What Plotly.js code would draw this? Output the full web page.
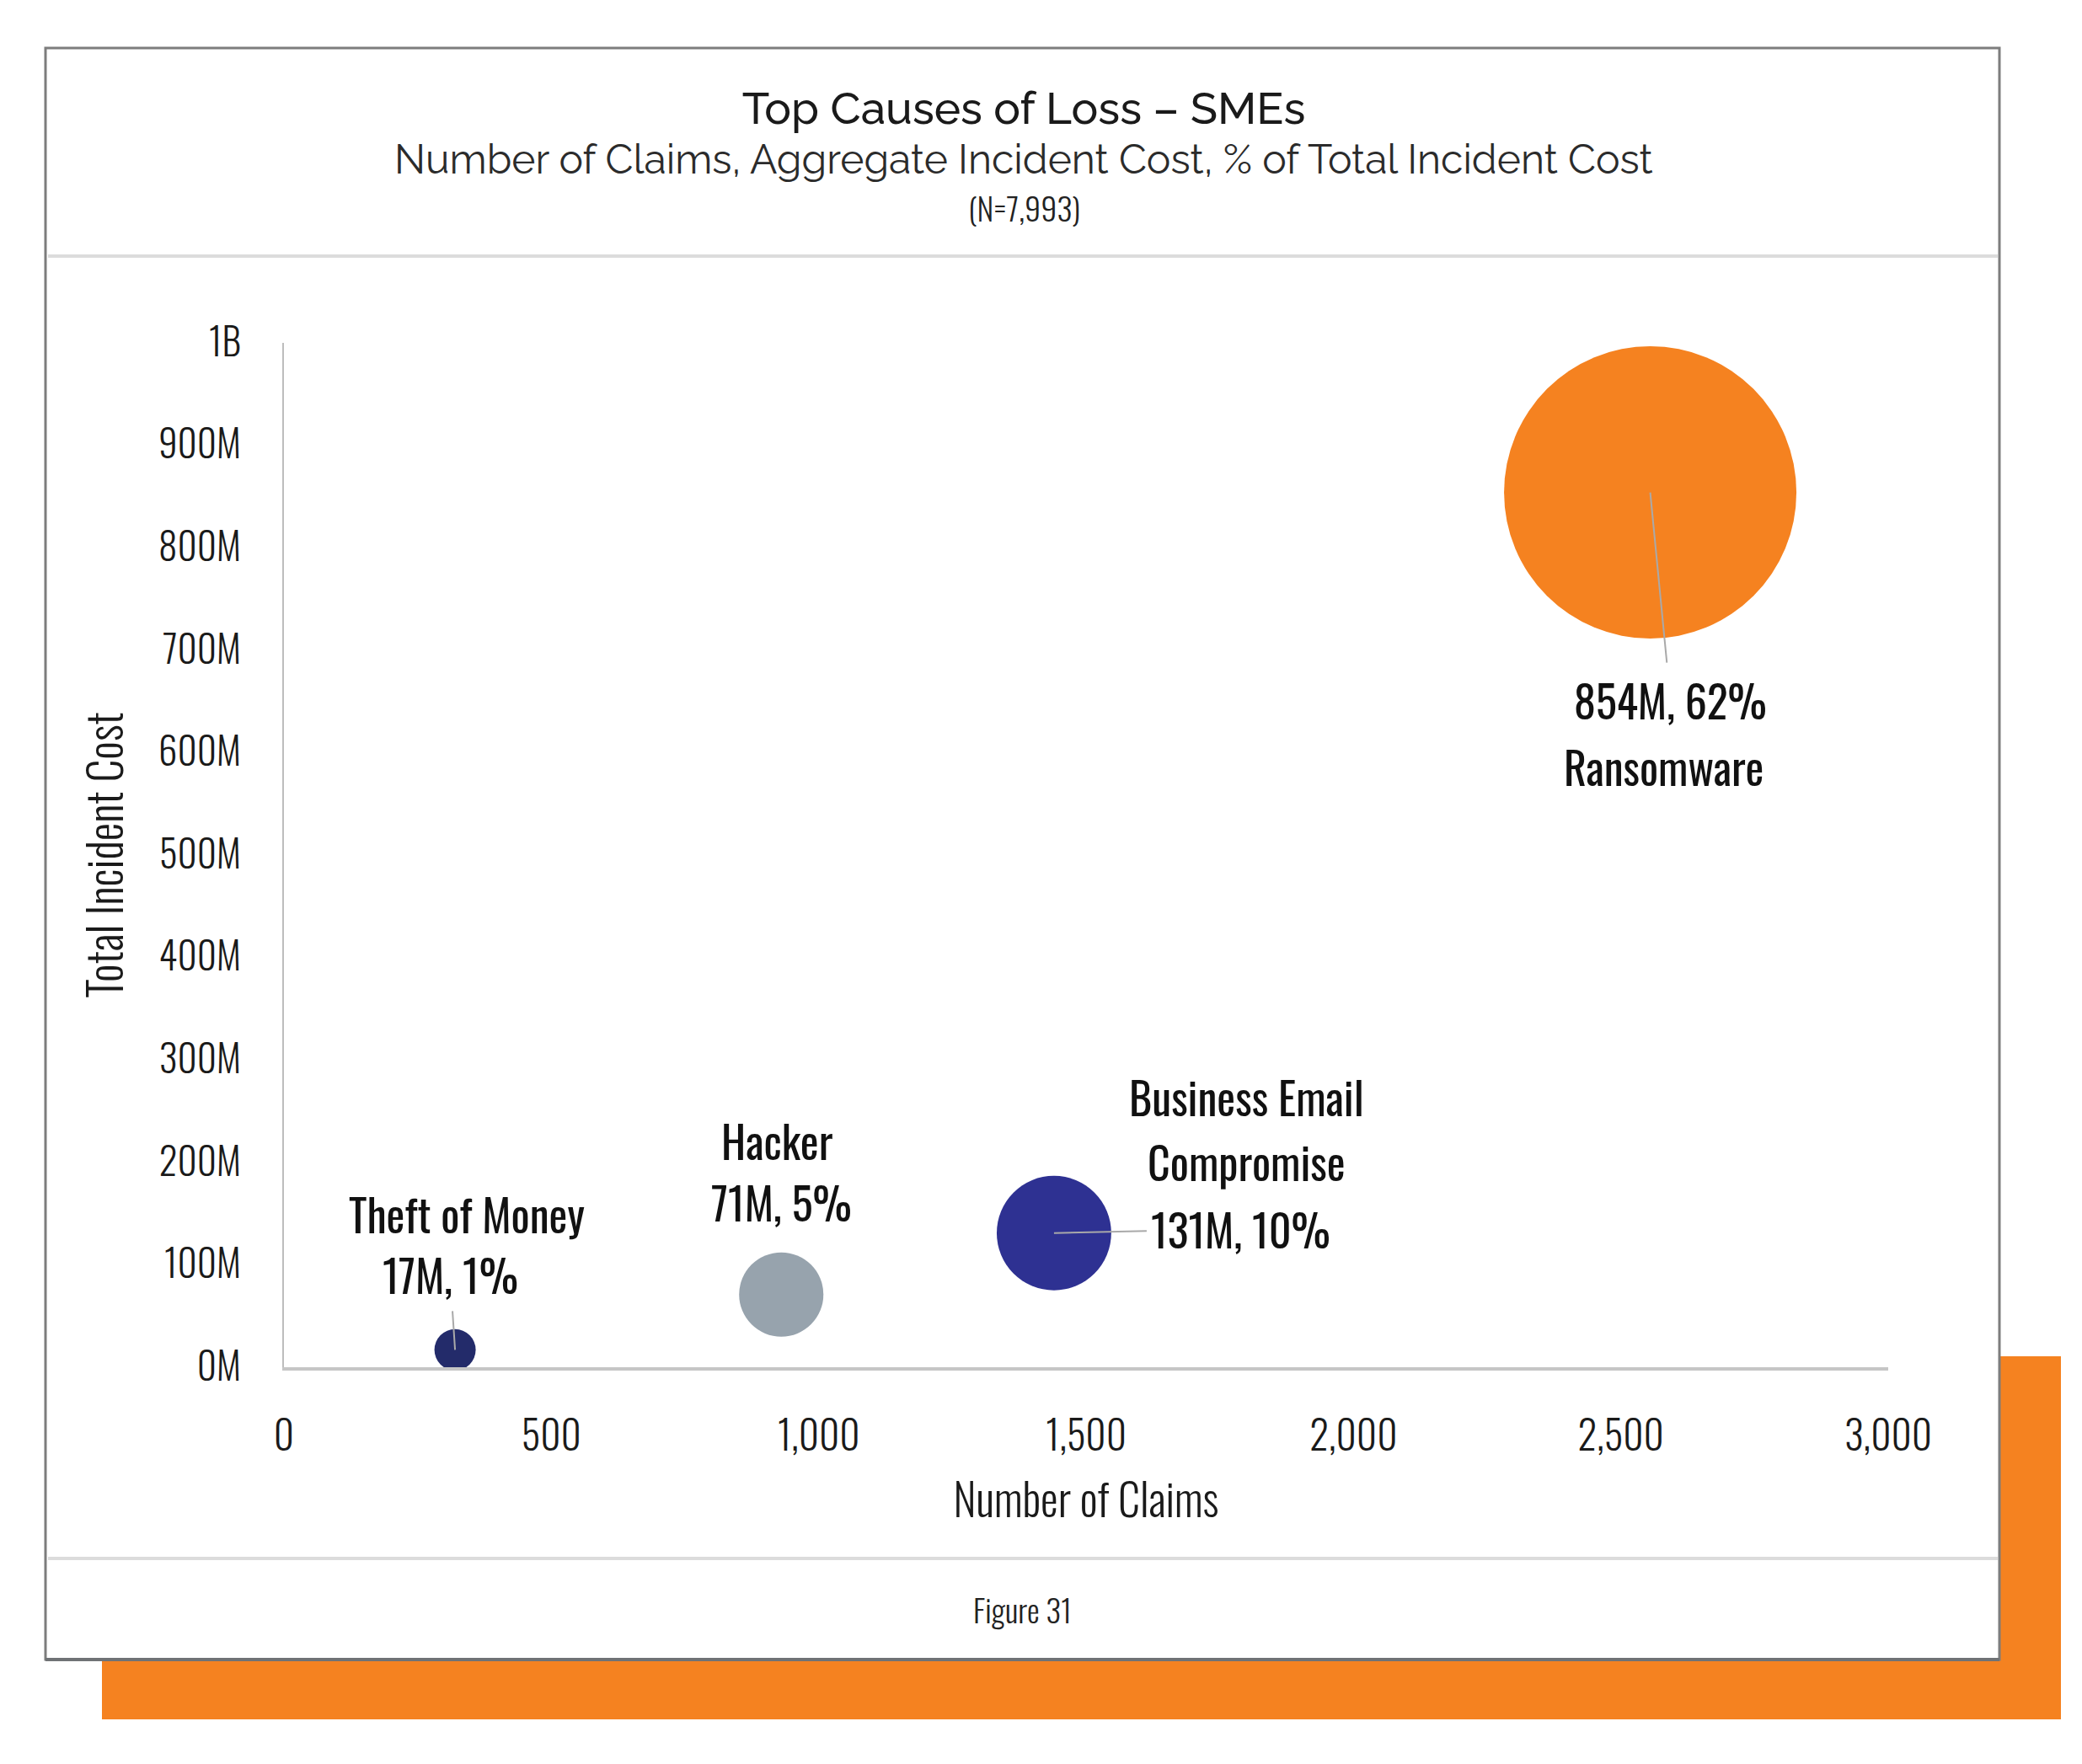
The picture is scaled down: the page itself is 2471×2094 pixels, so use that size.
<!DOCTYPE html>
<html>
<head>
<meta charset="utf-8">
<script src="https://cdn.plot.ly/plotly-3.0.1.min.js"></script>
<style>
  html, body { margin: 0; padding: 0; background: #ffffff; }
  #chart { width: 2471px; height: 2094px; }
</style>
</head>
<body>
<div id="chart"></div>
<script>
// ---- data ----
const categories = ['Theft of Money', 'Hacker', 'Business Email Compromise', 'Ransomware'];
const categoryLabels = ['Theft of Money', 'Hacker', 'Business Email<br>Compromise', 'Ransomware'];
const numberOfClaims = [320, 930, 1440, 2555];
const incidentCostM = [17, 71, 131, 854];
const pctOfTotalCost = [1, 5, 10, 62];
const xTickVals = [0, 500, 1000, 1500, 2000, 2500, 3000];
const yTickVals = [0, 100, 200, 300, 400, 500, 600, 700, 800, 900, 1000];
const yTickText = ['0M', '100M', '200M', '300M', '400M', '500M', '600M', '700M', '800M', '900M', '1B'];

// ---- style ----
const bubbleColors = ['#232B6A', '#97A3AD', '#2E3192', '#F58220'];
const W = 2471, H = 2094;
const L = 337, R = 2241, T = 407, B = 1623;
const px2x = p => (p - L) / (R - L);
const px2y = p => (B - p) / (B - T);
const narrow = 'Oswald, Roboto Condensed, sans-serif';
const rale = 'Raleway, Lato, sans-serif';
const maxDiameter = 347;
const sizeref = 2 * Math.max(...incidentCostM) / (maxDiameter * maxDiameter);

// label placement (pixel offsets from bubble centre)
const labelCfg = [
  { name: [[14, 162]], value: [-6, -90], arrow: true, startStandoff: 4 },
  { name: [[-5, 183]], value: [0, -110], arrow: false },
  { name: [[229, 162], [229, 85]], value: [222, -5], arrow: true, startStandoff: 4 },
  { name: [[16, -325]], value: [24, 246], arrow: true, startStandoff: 4 }
];

const trace = {
  type: 'scatter',
  mode: 'markers',
  x: numberOfClaims,
  y: incidentCostM,
  text: categories,
  cliponaxis: false,
  hoverinfo: 'text',
  marker: {
    size: incidentCostM,
    sizemode: 'area',
    sizeref: sizeref,
    color: bubbleColors,
    opacity: 1,
    line: { width: 0 }
  }
};

const labelFont = { family: narrow, size: 52, color: '#111111', weight: 400 };
const annotations = [];
categories.forEach((c, i) => {
  const cfg = labelCfg[i];
  const lines = categoryLabels[i].split('<br>');
  lines.forEach((ln, j) => {
    annotations.push({
      x: numberOfClaims[i], y: incidentCostM[i], xref: 'x', yref: 'y',
      text: ln, showarrow: false,
      xshift: cfg.name[j][0], yshift: cfg.name[j][1],
      xanchor: 'center', yanchor: 'middle',
      font: labelFont
    });
  });
  const valText = incidentCostM[i] + 'M, ' + pctOfTotalCost[i] + '%';
  if (cfg.arrow) {
    annotations.push({
      x: numberOfClaims[i], y: incidentCostM[i], xref: 'x', yref: 'y',
      text: valText, showarrow: true,
      ax: cfg.value[0], ay: cfg.value[1],
      arrowhead: 0, arrowwidth: 2, arrowcolor: '#a9a9a9',
      standoff: 0, startstandoff: cfg.startStandoff,
      font: labelFont
    });
  } else {
    annotations.push({
      x: numberOfClaims[i], y: incidentCostM[i], xref: 'x', yref: 'y',
      text: valText, showarrow: false,
      xshift: cfg.value[0], yshift: -cfg.value[1],
      xanchor: 'center', yanchor: 'middle',
      font: labelFont
    });
  }
});

// header / footer texts
annotations.push({
  xref: 'paper', yref: 'paper', x: px2x(1215), y: px2y(189),
  text: 'Number of Claims, Aggregate Incident Cost, % of Total Incident Cost',
  showarrow: false, xanchor: 'center', yanchor: 'middle',
  font: { family: rale, size: 48, color: '#2b2b2b', weight: 400 }
});
annotations.push({
  xref: 'paper', yref: 'paper', x: px2x(1215), y: px2y(246),
  text: '(N=7,993)', showarrow: false, xanchor: 'center', yanchor: 'middle',
  font: { family: narrow, size: 38, color: '#222222', weight: 300 }
});
annotations.push({
  xref: 'paper', yref: 'paper', x: px2x(1213), y: px2y(1910),
  text: 'Figure 31', showarrow: false, xanchor: 'center', yanchor: 'middle',
  font: { family: narrow, size: 37, color: '#222222', weight: 300 }
});

const shapes = [
  { type: 'rect', xref: 'paper', yref: 'paper', layer: 'below',
    x0: px2x(121), x1: px2x(2446), y0: px2y(1610), y1: px2y(2041),
    fillcolor: '#F58220', line: { width: 0 } },
  { type: 'rect', xref: 'paper', yref: 'paper', layer: 'below',
    x0: px2x(54), x1: px2x(2373), y0: px2y(57), y1: px2y(1970),
    fillcolor: '#ffffff', line: { color: '#7d7d7d', width: 3 } },
  { type: 'line', xref: 'paper', yref: 'paper', layer: 'below',
    x0: px2x(54), x1: px2x(2373), y0: px2y(1970), y1: px2y(1970),
    line: { color: '#6f7275', width: 4 } },
  { type: 'line', xref: 'paper', yref: 'paper', layer: 'below',
    x0: px2x(57), x1: px2x(2371), y0: px2y(304), y1: px2y(304),
    line: { color: '#dcdcdc', width: 4 } },
  { type: 'line', xref: 'paper', yref: 'paper', layer: 'below',
    x0: px2x(57), x1: px2x(2371), y0: px2y(1850), y1: px2y(1850),
    line: { color: '#dcdcdc', width: 4 } }
];

const layout = {
  width: W, height: H,
  margin: { l: L, r: W - R, t: T, b: H - B, pad: 0 },
  paper_bgcolor: '#ffffff',
  plot_bgcolor: 'rgba(0,0,0,0)',
  showlegend: false,
  title: {
    text: 'Top Causes of Loss – SMEs',
    x: 1215 / W, y: 1 - 128 / H, xref: 'container', yref: 'container',
    xanchor: 'center', yanchor: 'middle',
    font: { family: rale, size: 53, color: '#1a1a1a', weight: 500 }
  },
  xaxis: {
    range: [0, 3000],
    tickvals: xTickVals,
    tickformat: ',d',
    showgrid: false, zeroline: false,
    showline: true, linecolor: '#c6c6c6', linewidth: 4,
    ticks: '', ticklabelstandoff: 39,
    tickfont: { family: narrow, size: 47, color: '#1a1a1a', weight: 300 },
    title: { text: 'Number of Claims', standoff: 30,
      font: { family: narrow, size: 52, color: '#1a1a1a', weight: 300 } }
  },
  yaxis: {
    range: [0, 1000],
    tickvals: yTickVals,
    ticktext: yTickText,
    showgrid: false, zeroline: false,
    showline: true, linecolor: '#bdbdbd', linewidth: 2,
    ticks: '', ticklabelstandoff: 40,
    tickfont: { family: narrow, size: 45, color: '#1a1a1a', weight: 300 },
    title: { text: 'Total Incident Cost', standoff: 24,
      font: { family: narrow, size: 54, color: '#1a1a1a', weight: 300 } }
  },
  shapes: shapes,
  annotations: annotations
};

Plotly.newPlot('chart', [trace], layout, { displayModeBar: false, staticPlot: true });
</script>
</body>
</html>
